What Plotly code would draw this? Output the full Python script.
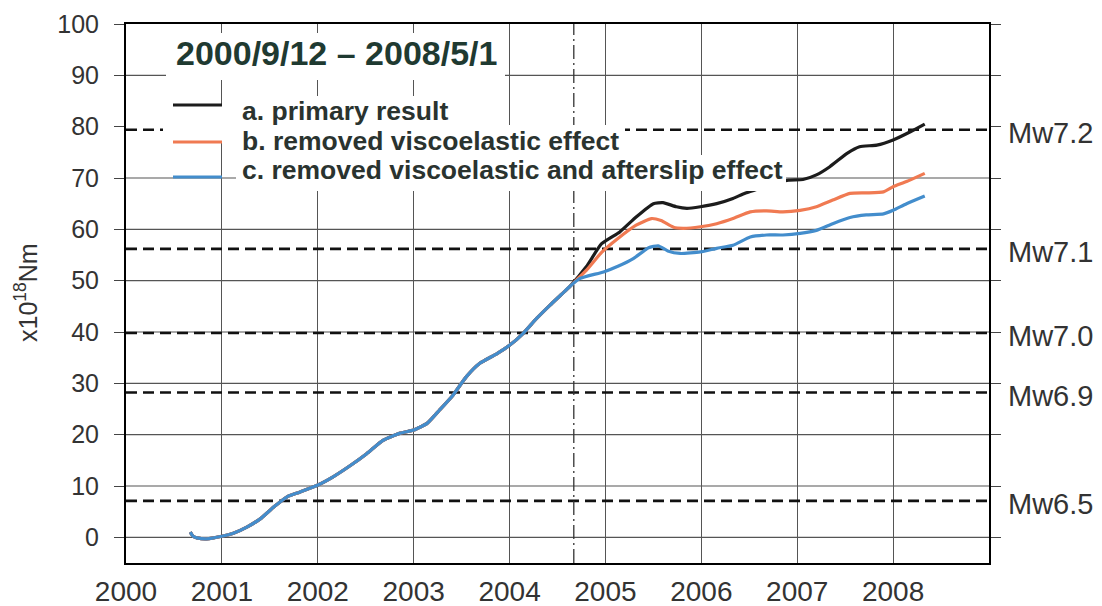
import plotly.graph_objects as go

# ---------------- data ----------------
# shared part of all three curves (they coincide until the 2004 event)
t_common = [2000.67, 2000.70, 2000.74, 2000.84, 2001.00, 2001.12, 2001.26, 2001.40,
            2001.54, 2001.68, 2001.81, 2001.99, 2002.16, 2002.34, 2002.51, 2002.68,
            2002.86, 2003.00, 2003.14, 2003.27, 2003.41, 2003.55, 2003.69, 2003.87,
            2004.00, 2004.14, 2004.28, 2004.42, 2004.54, 2004.63]
v_common = [1.0, 0.2, -0.1, -0.3, 0.2, 0.8, 2.0, 3.6,
            5.9, 7.9, 8.8, 10.1, 11.8, 14.0, 16.3, 18.9,
            20.3, 20.9, 22.2, 24.8, 27.7, 31.3, 33.9, 35.8,
            37.4, 39.7, 42.6, 45.2, 47.3, 48.9]

t_a = [2004.80, 2004.96, 2005.15, 2005.32, 2005.50, 2005.60, 2005.74, 2005.85,
       2005.99, 2006.16, 2006.33, 2006.45, 2006.60, 2006.75, 2006.91, 2007.06,
       2007.20, 2007.34, 2007.52, 2007.65, 2007.83, 2008.00, 2008.18, 2008.33]
v_a = [52.7, 57.2, 59.5, 62.4, 65.0, 65.2, 64.4, 64.1,
       64.4, 65.0, 66.0, 67.0, 67.9, 68.9, 69.6, 69.7,
       70.6, 72.2, 74.8, 76.1, 76.4, 77.4, 79.0, 80.5]

t_b = [2004.80, 2004.96, 2005.13, 2005.32, 2005.48, 2005.58, 2005.71, 2005.81,
       2005.99, 2006.16, 2006.33, 2006.51, 2006.68, 2006.85, 2007.03, 2007.20,
       2007.37, 2007.55, 2007.72, 2007.90, 2008.00, 2008.14, 2008.33]
v_b = [52.0, 55.5, 58.2, 60.8, 62.1, 61.7, 60.4, 60.2,
       60.5, 61.1, 62.1, 63.4, 63.6, 63.4, 63.7, 64.4,
       65.7, 67.0, 67.1, 67.3, 68.3, 69.3, 70.9]

t_c = [2004.73, 2004.98, 2005.13, 2005.29, 2005.45, 2005.55, 2005.65, 2005.78,
       2005.99, 2006.16, 2006.33, 2006.51, 2006.68, 2006.85, 2007.03, 2007.20,
       2007.37, 2007.55, 2007.72, 2007.90, 2008.00, 2008.14, 2008.33]
v_c = [50.4, 51.7, 52.8, 54.3, 56.4, 56.8, 55.8, 55.3,
       55.6, 56.3, 56.9, 58.5, 58.9, 58.9, 59.2, 59.8,
       61.1, 62.3, 62.8, 63.0, 63.7, 65.0, 66.5]

series_names = ["a. primary result",
                "b. removed viscoelastic effect",
                "c. removed viscoelastic and afterslip effect"]
series_colors = ["#1c1c1c", "#f07a52", "#438dcc"]

mw_labels = ["Mw7.2", "Mw7.1", "Mw7.0", "Mw6.9", "Mw6.5"]
mw_values = [79.4, 56.2, 39.8, 28.2, 7.1]

event_year = [2004.67]
period_title = "2000/9/12 \u2013 2008/5/1"
x_ticks = list(range(2000, 2009))
y_ticks = list(range(0, 101, 10))
x_range = [2000, 2009]
y_range = [-5, 100]

# ---------------- layout geometry (pixels) ----------------
W, H = 1102, 606
L, R, T, B = 126, 989, 24, 563


def px(x):
    return (x - L) / (R - L)


def py(y):
    return (B - y) / (B - T)


FONT = "Liberation Sans, Arial, sans-serif"

fig = go.Figure()

# Mw reference levels
for lab, val in zip(mw_labels, mw_values):
    fig.add_trace(go.Scatter(x=x_range, y=[val, val], mode="lines",
                             line=dict(color="#111111", width=2.6, dash="11px,6px"),
                             showlegend=False, hoverinfo="skip"))

# event marker line
fig.add_trace(go.Scatter(x=event_year * 2, y=y_range, mode="lines",
                         line=dict(color="#333333", width=1.3, dash="14px,4px,2px,4px"),
                         showlegend=False, hoverinfo="skip"))

# the three moment curves
curves = [(t_a, v_a), (t_b, v_b), (t_c, v_c)]
for (tt, vv), name, col in zip(curves, series_names, series_colors):
    fig.add_trace(go.Scatter(x=t_common + tt, y=v_common + vv, mode="lines", name=name,
                             line=dict(color=col, width=3.2, shape="spline", smoothing=0.5),
                             showlegend=False))

shapes = []
# horizontal grid lines (the 80 line is replaced by the Mw7.2 dashed line)
for g in y_ticks:
    if g in (80, 100):
        continue
    shapes.append(dict(type="line", xref="paper", yref="y", x0=0, x1=1, y0=g, y1=g,
                       line=dict(color="#555555", width=1.2), layer="below"))

# white backgrounds of the legend block
for (x0, y0, x1, y1) in [(166, 33, 505, 80), (236, 96, 455, 125), (163, 106, 236, 142),
                         (236, 125, 625, 155), (236, 155, 786, 191)]:
    shapes.append(dict(type="rect", xref="paper", yref="paper",
                       x0=px(x0), x1=px(x1), y0=py(y1), y1=py(y0),
                       fillcolor="white", line=dict(width=0), layer="above"))

# legend sample lines
for col, yy in zip(series_colors, [105, 142, 177]):
    shapes.append(dict(type="line", xref="paper", yref="paper",
                       x0=px(173), x1=px(222), y0=py(yy), y1=py(yy),
                       line=dict(color=col, width=3), layer="above"))

annotations = []
annotations.append(dict(text="<b>" + period_title + "</b>", xref="paper", yref="paper",
                        x=px(174), y=py(53), xanchor="left", yanchor="middle",
                        showarrow=False, font=dict(family=FONT, size=34, color="#1f3a31")))
for name, yy in zip(series_names, [111, 141, 170]):
    annotations.append(dict(text="<b>" + name + "</b>", xref="paper", yref="paper",
                            x=px(240), y=py(yy), xanchor="left", yanchor="middle",
                            showarrow=False, font=dict(family=FONT, size=26.5, color="#2a332f")))
for lab, val in zip(mw_labels, mw_values):
    annotations.append(dict(text=lab, xref="paper", yref="y", x=px(1006), y=val,
                            xanchor="left", yanchor="middle", yshift=-3, showarrow=False,
                            font=dict(family=FONT, size=29, color="#333333")))
annotations.append(dict(text="x10<sup>18</sup>Nm", xref="paper", yref="paper",
                        x=px(26), y=py(293), xanchor="center", yanchor="middle",
                        textangle=-90, showarrow=False,
                        font=dict(family=FONT, size=25, color="#333333")))

fig.update_layout(
    width=W, height=H,
    margin=dict(l=L, r=W - R, t=T, b=H - B, autoexpand=False),
    paper_bgcolor="white", plot_bgcolor="white",
    shapes=shapes, annotations=annotations,
    showlegend=False,
    xaxis=dict(range=x_range, tickvals=x_ticks, showgrid=True, gridcolor="#555555",
               gridwidth=1.2, zeroline=False, showline=True, linecolor="black",
               linewidth=2, mirror=True, ticks="", ticklabelstandoff=2, automargin=False,
               tickfont=dict(family=FONT, size=28, color="#333333")),
    yaxis=dict(range=y_range, tickvals=y_ticks, showgrid=False,
               zeroline=False, showline=True, linecolor="black",
               linewidth=2, mirror="ticks", ticks="outside", ticklen=10, tickwidth=1.2,
               tickcolor="#444444", ticklabelstandoff=10, automargin=False,
               tickfont=dict(family=FONT, size=25, color="#333333")),
)

fig.write_html("out.html", config={"displayModeBar": False},
               post_script="document.body.style.margin='0px';"
                           "document.body.style.overflow='hidden';")
